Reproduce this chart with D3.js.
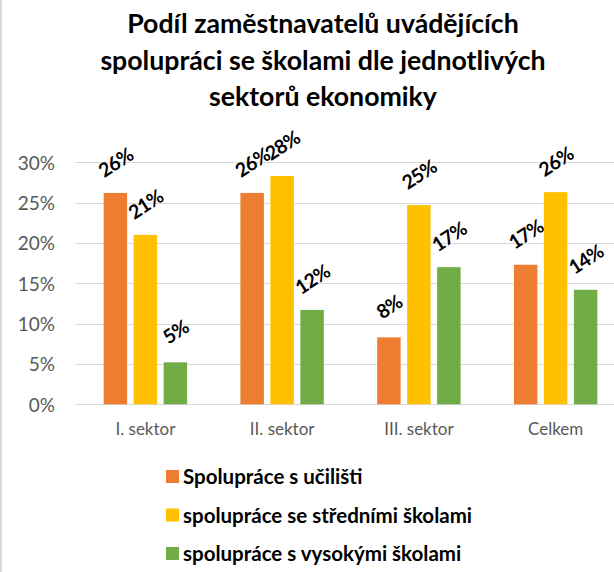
<!DOCTYPE html>
<html><head><meta charset="utf-8">
<script src="https://cdn.jsdelivr.net/npm/d3@7"></script>
<style>body{margin:0;background:#fff}svg{display:block}</style>
</head><body>
<svg id="c" width="614" height="572"></svg>
<script>
const titleLines = ["Podíl zaměstnavatelů uvádějících", "spolupráci se školami dle jednotlivých", "sektorů ekonomiky"];
const categories = ["I. sektor", "II. sektor", "III. sektor", "Celkem"];
const seriesNames = ["Spolupráce s učilišti", "spolupráce se středními školami", "spolupráce s vysokými školami"];
const seriesColors = ["#ED7D31", "#FFC000", "#70AD47"];
const uciliste = [0.262, 0.262, 0.083, 0.173];
const stredni = [0.210, 0.283, 0.247, 0.263];
const vysoke = [0.052, 0.117, 0.170, 0.142];
const yTicks = [0, 0.05, 0.10, 0.15, 0.20, 0.25, 0.30];

const series = [uciliste, stredni, vysoke];
const svg = d3.select("#c");
const W = 614, H = 572;
const FONT = "Lato, 'Open Sans', sans-serif";

// chart border (left edge visible)
svg.append("line").attr("x1",1).attr("x2",1).attr("y1",0).attr("y2",H)
  .attr("stroke","#D9D9D9").attr("stroke-width",2);

// title
svg.append("g").selectAll("text").data(titleLines).join("text")
  .attr("x", 323).attr("y", (d,i)=>33 + i*36.5)
  .attr("text-anchor","middle").attr("font-family",FONT).attr("font-weight","bold")
  .attr("font-size",26.7).attr("fill","#000").text(d=>d);

const x = d3.scaleBand().domain(categories).range([77, 624]).paddingInner(0.39).paddingOuter(0.195);
const xi = d3.scaleBand().domain(d3.range(series.length)).range([0, x.bandwidth()]).paddingInner(0.217);
const y = d3.scaleLinear().domain([0, 0.30]).range([404.3, 162.3]);

// gridlines
svg.append("g").selectAll("line").data(yTicks).join("line")
  .attr("x1", 75).attr("x2", 624)
  .attr("y1", d=>Math.round(y(d))+0.5).attr("y2", d=>Math.round(y(d))+0.5)
  .attr("stroke","#D9D9D9").attr("stroke-width",1);

// y axis labels
const yAxis = d3.axisLeft(y).tickValues(yTicks).tickFormat(d3.format(".0%")).tickSize(0).tickPadding(0);
const ya = svg.append("g").attr("transform","translate(55,0)").call(yAxis);
ya.select(".domain").remove();
ya.selectAll("text").attr("font-family",FONT).attr("font-size",19).attr("fill","#595959").attr("dy","0.36em");

// x axis labels
const xAxis = d3.axisBottom(x).tickSize(0).tickPadding(0);
const xa = svg.append("g").attr("transform","translate(0,423)").call(xAxis);
xa.select(".domain").remove();
xa.selectAll("text").attr("font-family",FONT).attr("font-size",17).attr("fill","#595959").attr("dy","0.71em");

// bars
const flat = [];
series.forEach((s, si) => s.forEach((v, ci) => flat.push({si, ci, v})));
const bx = d => x(categories[d.ci]) + xi(d.si);
svg.append("g").selectAll("rect").data(flat).join("rect")
  .attr("x", bx).attr("width", xi.bandwidth())
  .attr("y", d=>y(d.v)).attr("height", d=>y(0)-y(d.v))
  .attr("fill", d=>seriesColors[d.si]);

// data labels
const fmt = d3.format(".0%");
svg.append("g").selectAll("text").data(flat).join("text")
  .attr("transform", d=>`translate(${bx(d)+xi.bandwidth()/2},${y(d.v)-31}) rotate(-33)`)
  .attr("text-anchor","middle").attr("dominant-baseline","central")
  .attr("font-family",FONT).attr("font-weight","bold").attr("font-size",19.5)
  .attr("letter-spacing","-0.7px").attr("fill","#000")
  .text(d=>fmt(d.v));

// legend
const lg = svg.append("g").selectAll("g").data(seriesNames).join("g")
  .attr("transform", (d,i)=>`translate(166,${484 + i*38.5})`);
lg.append("rect").attr("x",0).attr("y",-14).attr("width",13).attr("height",13)
  .attr("fill",(d,i)=>seriesColors[i]);
lg.append("text").attr("x",17).attr("y",0).attr("font-family",FONT).attr("font-weight","bold")
  .attr("font-size",20.5).attr("fill","#000").text(d=>d);
</script>
</body></html>
